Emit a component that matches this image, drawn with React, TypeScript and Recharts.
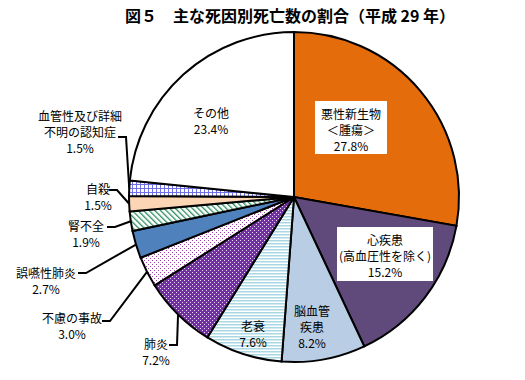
import { Pie, PieChart, Cell } from "recharts";

const CAUSES = [
  "悪性新生物",
  "心疾患",
  "脳血管疾患",
  "老衰",
  "肺炎",
  "不慮の事故",
  "誤嚥性肺炎",
  "腎不全",
  "自殺",
  "血管性及び詳細不明の認知症",
  "その他",
];
const SHARES = [27.8, 15.2, 8.2, 7.6, 7.2, 3.0, 2.7, 1.9, 1.5, 1.5, 23.4];
const LABEL_TEXT = [
  ["悪性新生物", "＜腫瘍＞"],
  ["心疾患", "(高血圧性を除く)"],
  ["脳血管", "疾患"],
  ["老衰"],
  ["肺炎"],
  ["不慮の事故"],
  ["誤嚥性肺炎"],
  ["腎不全"],
  ["自殺"],
  ["血管性及び詳細", "不明の認知症"],
  ["その他"],
];
const TITLE = "図５　主な死因別死亡数の割合（平成 29 年）";

const FILLS = [
  "#e46c0a",
  "#604a7b",
  "#b9cde5",
  "url(#stripeH)",
  "url(#dotsPurple)",
  "url(#dotsWhite)",
  "#4f81bd",
  "url(#hatchGreen)",
  "#fcd5b5",
  "url(#gridBlue)",
  "#ffffff",
];

// label layout, offsets from the pie centre
type Pos = {
  x: number;
  y: number;
  box?: [number, number, number, number];
  elbow?: [number, number];
};
const LABEL_POS: Pos[] = [
  { x: 57, y: -84, box: [21, -96, 72, 53] },
  { x: 91, y: 42, box: [43, 30, 96, 54] },
  { x: 18, y: 113 },
  { x: -41, y: 128 },
  { x: -138, y: 146, elbow: [-117, 148] },
  { x: -222, y: 120, elbow: [-184, 124] },
  { x: -248, y: 75, elbow: [-208, 76] },
  { x: -208, y: 28, elbow: [-179, 30] },
  { x: -196, y: -9, elbow: [-177, -7] },
  { x: -214, y: -82, elbow: [-168, -60] },
  { x: -83, y: -85 },
];

const CX = 294;
const CY = 197;
const R = 165;
const RAD = Math.PI / 180;
const LINE_H = 16;
const FONT = "'Noto Sans CJK JP', sans-serif";

const data = CAUSES.map((name, i) => ({ name, value: SHARES[i] }));

function renderLabel(props: any) {
  const { index, midAngle, value } = props;
  const cx = props.cx ?? CX;
  const cy = props.cy ?? CY;
  const r = props.outerRadius ?? R;
  const pos = LABEL_POS[index];
  const lines = [...LABEL_TEXT[index], `${Number(value).toFixed(1)}%`];
  const x = cx + pos.x;
  const y0 = cy + pos.y;
  let leader = null;
  if (pos.elbow) {
    const ex = cx + pos.elbow[0];
    const ey = cy + pos.elbow[1];
    const px = cx + r * Math.cos(-midAngle * RAD);
    const py = cy + r * Math.sin(-midAngle * RAD);
    leader = (
      <polyline
        points={`${ex - 8},${ey} ${ex},${ey} ${px},${py}`}
        fill="none"
        stroke="#000"
        strokeWidth={2}
      />
    );
  }
  return (
    <g key={`lbl-${index}`}>
      {pos.box && (
        <rect
          x={cx + pos.box[0]}
          y={cy + pos.box[1]}
          width={pos.box[2]}
          height={pos.box[3]}
          fill="#fff"
        />
      )}
      {leader}
      {lines.map((t, j) => (
        <text
          key={j}
          x={x}
          y={y0 + j * LINE_H}
          textAnchor="middle"
          dominantBaseline="central"
          fontSize={12}
          fill="#000"
          fontFamily={FONT}
        >
          {t}
        </text>
      ))}
    </g>
  );
}

export default function App() {
  return (
    <div
      style={{
        position: "absolute",
        left: 0,
        top: 0,
        width: 525,
        height: 380,
        background: "#fff",
      }}
    >
      <PieChart width={525} height={380} margin={{ top: 0, right: 0, bottom: 0, left: 0 }}>
        <defs>
          <pattern id="stripeH" width="4" height="3" patternUnits="userSpaceOnUse">
            <rect width="4" height="3" fill="#fff" />
            <rect width="4" height="1.5" fill="#a9d8e4" />
          </pattern>
          <pattern id="dotsPurple" width="4" height="4" patternUnits="userSpaceOnUse">
            <rect width="4" height="4" fill="#7030a0" />
            <rect x="0" y="0" width="1" height="1" fill="#e8d8f0" />
            <rect x="2" y="2" width="1" height="1" fill="#e8d8f0" />
          </pattern>
          <pattern id="dotsWhite" width="4" height="4" patternUnits="userSpaceOnUse">
            <rect width="4" height="4" fill="#fff" />
            <rect x="0" y="0" width="1" height="1" fill="#a040b0" />
            <rect x="2" y="2" width="1" height="1" fill="#a040b0" />
          </pattern>
          <pattern
            id="hatchGreen"
            width="4"
            height="4"
            patternUnits="userSpaceOnUse"
            patternTransform="rotate(-45)"
          >
            <rect width="4" height="4" fill="#fff" />
            <rect width="1.3" height="4" fill="#2e8b60" />
          </pattern>
          <pattern id="gridBlue" width="4" height="4" patternUnits="userSpaceOnUse">
            <rect width="4" height="4" fill="#fff" />
            <rect width="4" height="1" fill="#6f6fe8" />
            <rect width="1" height="4" fill="#6f6fe8" />
          </pattern>
        </defs>
        <text
          x={290}
          y={15}
          textAnchor="middle"
          dominantBaseline="central"
          fontSize={16}
          fontWeight={700}
          fontFamily={FONT}
          style={{ whiteSpace: "pre" }}
        >
          {TITLE}
        </text>
        <Pie
          data={data}
          dataKey="value"
          nameKey="name"
          cx={CX}
          cy={CY}
          outerRadius={R}
          startAngle={90}
          endAngle={-270}
          stroke="#000"
          strokeWidth={2}
          isAnimationActive={false}
          labelLine={false}
          label={renderLabel}
        >
          {data.map((_, i) => (
            <Cell key={i} fill={FILLS[i]} />
          ))}
        </Pie>
      </PieChart>
    </div>
  );
}
